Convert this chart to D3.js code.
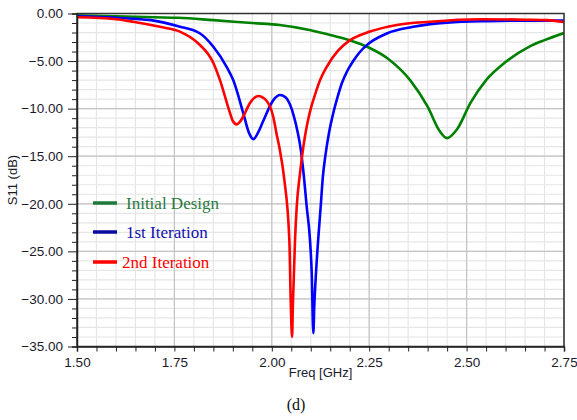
<!DOCTYPE html>
<html>
<head>
<meta charset="utf-8">
<script src="https://cdn.jsdelivr.net/npm/d3@7"></script>
<style>
  body { margin: 0; background: #fff; }
  svg { display: block; }
</style>
</head>
<body>
<svg id="chart" width="577" height="420"></svg>
<script>
// data: [freq GHz, S11 dB]
const initialDesign = [
  [1.50, -0.2], [1.60, -0.3], [1.70, -0.4], [1.76, -0.45], [1.85, -0.7], [1.95, -1.0],
  [2.02, -1.2], [2.10, -1.75], [2.15, -2.26], [2.20, -2.8], [2.25, -3.6], [2.30, -4.8],
  [2.355, -7.0], [2.40, -9.8], [2.43, -12.3], [2.45, -13.1], [2.475, -12.2], [2.51, -9.4],
  [2.55, -7.0], [2.60, -5.1], [2.66, -3.5], [2.70, -2.8], [2.75, -2.05]
];
const firstIteration = [
  [1.50, -0.3], [1.60, -0.45], [1.69, -0.7], [1.76, -1.35], [1.816, -2.1], [1.85, -3.5],
  [1.884, -5.6], [1.901, -7.0], [1.927, -10.5], [1.942, -12.6], [1.953, -13.2], [1.965, -12.5],
  [1.978, -11.3], [2.004, -9.1], [2.021, -8.57], [2.035, -8.8], [2.047, -9.6], [2.056, -10.7],
  [2.066, -12.4], [2.074, -14.2], [2.081, -16.6], [2.0896, -20.3], [2.098, -23.8], [2.1025, -27.3],
  [2.1066, -33.6], [2.109, -30.8], [2.1134, -27.3], [2.119, -23.8], [2.1255, -20.3], [2.131, -17.2],
  [2.138, -14.8], [2.147, -12.5], [2.157, -10.6], [2.168, -8.9], [2.18, -7.3], [2.193, -6.1],
  [2.209, -5.0], [2.225, -4.1], [2.243, -3.35], [2.295, -2.1], [2.363, -1.4], [2.45, -0.96],
  [2.55, -0.8], [2.65, -0.75], [2.75, -0.75]
];
const secondIteration = [
  [1.50, -0.4], [1.60, -0.6], [1.644, -0.86], [1.713, -1.4], [1.764, -1.9], [1.81, -3.1],
  [1.85, -5.2], [1.867, -7.0], [1.893, -10.5], [1.90, -11.3], [1.91, -11.65], [1.918, -11.4],
  [1.927, -10.8], [1.944, -9.4], [1.965, -8.67], [1.987, -9.2], [2.004, -10.9], [2.012, -12.6],
  [2.020, -14.2], [2.032, -17.4], [2.045, -23.8], [2.0485, -30.1], [2.052, -34.0], [2.054, -30.8],
  [2.0596, -23.8], [2.064, -20.3], [2.0724, -16.8], [2.081, -14.0], [2.090, -11.8], [2.100, -10.0],
  [2.112, -8.4], [2.124, -7.0], [2.141, -5.6], [2.17, -3.9], [2.201, -2.8], [2.252, -1.9],
  [2.321, -1.2], [2.406, -0.86], [2.534, -0.6], [2.65, -0.65], [2.706, -0.7], [2.75, -0.9]
];

const seriesNames = ['Initial Design', '1st Iteration', '2nd Iteration'];
const seriesData = [initialDesign, firstIteration, secondIteration];
const lineColors = ['#008000', '#0000ff', '#ff0000'];
const legendLineColors = ['#1f7a3a', '#0a0aa0', '#ff0000'];
const legendTextColors = ['#2a7a40', '#1010b0', '#ff0000'];

const xTicks = [1.50, 1.75, 2.00, 2.25, 2.50, 2.75];
const yTicks = [0, -5, -10, -15, -20, -25, -30, -35];

const pLeft = 77, pRight = 564, pTop = 13.5, pBottom = 346.5;

let svg = d3.select('#chart');

const x = d3.scaleLinear().domain([1.5, 2.75]).range([pLeft, pRight]);
const y = d3.scaleLinear().domain([-35, 0]).range([pBottom, pTop]);

// 网格线 minor then major
const minorX = d3.range(1.5, 2.7501, 0.05);
const minorY = d3.range(-35, 0.001, 1);
let grid = svg.append('g');
grid.selectAll('.mx').data(minorX).join('line')
  .attr('x1', d => x(d)).attr('x2', d => x(d))
  .attr('y1', pTop).attr('y2', pBottom)
  .attr('stroke', '#e6e6e6').attr('stroke-width', 1.2);
grid.selectAll('.my').data(minorY).join('line')
  .attr('x1', pLeft).attr('x2', pRight)
  .attr('y1', d => y(d)).attr('y2', d => y(d))
  .attr('stroke', '#e6e6e6').attr('stroke-width', 1.2);
grid.selectAll('.Mx').data(xTicks).join('line')
  .attr('x1', d => x(d)).attr('x2', d => x(d))
  .attr('y1', pTop).attr('y2', pBottom)
  .attr('stroke', '#c4c4c4').attr('stroke-width', 1.2);
grid.selectAll('.My').data(yTicks).join('line')
  .attr('x1', pLeft).attr('x2', pRight)
  .attr('y1', d => y(d)).attr('y2', d => y(d))
  .attr('stroke', '#c4c4c4').attr('stroke-width', 1.2);

// 曲线
svg.append('clipPath').attr('id', 'clip').append('rect')
  .attr('x', pLeft).attr('y', pTop).attr('width', pRight - pLeft).attr('height', pBottom - pTop);

const line = d3.line().x(d => x(d[0])).y(d => y(d[1])).curve(d3.curveMonotoneX);
svg.append('g').attr('clip-path', 'url(#clip)')
  .selectAll('path').data(seriesData).join('path')
  .attr('d', line)
  .attr('fill', 'none')
  .attr('stroke', (d, i) => lineColors[i])
  .attr('stroke-width', 2.6);

// 边框
svg.append('rect').attr('x', pLeft).attr('y', pTop).attr('width', pRight - pLeft).attr('height', pBottom - pTop)
  .attr('fill', 'none').attr('stroke', '#333').attr('stroke-width', 1.5);

// 坐标轴
const xAxis = d3.axisBottom(x).tickValues(minorX).tickSize(5)
  .tickFormat(d => xTicks.some(t => Math.abs(t - d) < 1e-6) ? d3.format('.2f')(d) : '');
svg.append('g').attr('transform', `translate(0,${pBottom})`).call(xAxis)
  .call(g => g.select('.domain').attr('stroke', '#222').attr('stroke-width', 1.5))
  .call(g => g.selectAll('.tick line').attr('stroke', '#222'))
  .call(g => g.selectAll('text').attr('font-family', 'Arial, "Liberation Sans", sans-serif')
    .attr('font-size', 13.5).attr('fill', '#1a1a2a').attr('dy', '0.95em'));

const yAxis = d3.axisLeft(y).tickValues(minorY).tickSize(5)
  .tickFormat(d => Math.abs(d % 5) < 1e-6 ? d3.format('.2f')(d) : '');
svg.append('g').attr('transform', `translate(${pLeft},0)`).call(yAxis)
  .call(g => g.select('.domain').attr('stroke', '#222').attr('stroke-width', 1.5))
  .call(g => g.selectAll('.tick line').attr('stroke', '#222')
    .attr('x2', d => Math.abs(d % 5) < 1e-6 ? -9 : -5))
  .call(g => g.selectAll('text').attr('font-family', 'Arial, "Liberation Sans", sans-serif')
    .attr('font-size', 13.5).attr('fill', '#1a1a2a').attr('x', -14));

// 轴标题
svg.append('text').attr('x', (pLeft + pRight) / 2).attr('y', 377)
  .attr('text-anchor', 'middle').attr('font-family', 'Arial, "Liberation Sans", sans-serif')
  .attr('font-size', 13).attr('fill', '#1a1a2a').text('Freq [GHz]');
svg.append('text').attr('transform', `translate(17,${(pTop + pBottom) / 2}) rotate(-90)`)
  .attr('text-anchor', 'middle').attr('font-family', 'Arial, "Liberation Sans", sans-serif')
  .attr('font-size', 13).attr('fill', '#1a1a2a').text('S11 (dB)');
svg.append('text').attr('x', 296).attr('y', 410)
  .attr('text-anchor', 'middle').attr('font-family', '"Liberation Serif", "Times New Roman", serif')
  .attr('font-size', 16).attr('fill', '#111').text('(d)');

// 图例
const legendY = [203, 232, 262];
let legend = svg.append('g');
legend.selectAll('line').data(seriesNames).join('line')
  .attr('x1', 93).attr('x2', 117)
  .attr('y1', (d, i) => legendY[i]).attr('y2', (d, i) => legendY[i])
  .attr('stroke', (d, i) => legendLineColors[i]).attr('stroke-width', 3.5);
legend.selectAll('text').data(seriesNames).join('text')
  .attr('x', (d, i) => i === 2 ? 122 : 126)
  .attr('y', (d, i) => legendY[i])
  .attr('dy', '0.33em')
  .attr('font-family', '"Liberation Serif", "Times New Roman", serif')
  .attr('font-size', 17)
  .attr('fill', (d, i) => legendTextColors[i])
  .text(d => d);
</script>
</body>
</html>
